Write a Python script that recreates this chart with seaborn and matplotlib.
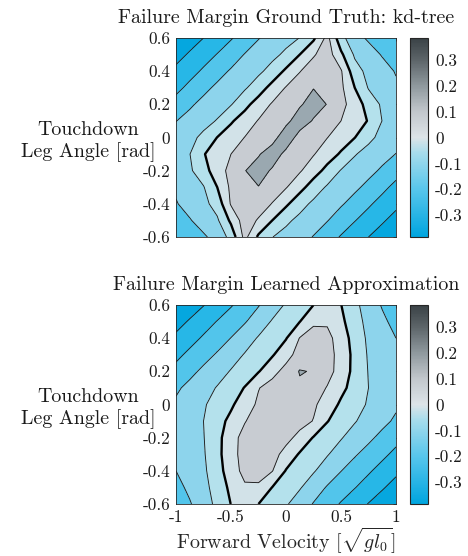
import numpy as np
import matplotlib
matplotlib.use("Agg")
import matplotlib.pyplot as plt
import seaborn as sns
from matplotlib.colors import LinearSegmentedColormap, Normalize
from matplotlib.cm import ScalarMappable

# ---------------- data ----------------
forward_velocity = [-1.0, -0.875, -0.75, -0.625, -0.5, -0.375, -0.25, -0.125, 0.0,
                    0.125, 0.25, 0.375, 0.5, 0.625, 0.75, 0.875, 1.0]
leg_angle = [-0.6, -0.5, -0.4, -0.3, -0.2, -0.1, 0.0, 0.1, 0.2, 0.3, 0.4, 0.5, 0.6]

# failure margin, ground truth (rows: leg angle -0.6 ... 0.6)
truth_margin = [
    [-0.125, -0.116, -0.106, -0.085, -0.033, 0.065, -0.009, -0.049, -0.067, -0.084, -0.102, -0.128, -0.154, -0.177, -0.200, -0.222, -0.245],
    [-0.113, -0.103, -0.082, -0.057, 0.010, 0.075, 0.045, 0.000, -0.040, -0.063, -0.081, -0.098, -0.123, -0.148, -0.171, -0.194, -0.217],
    [-0.103, -0.084, -0.064, -0.030, 0.055, 0.080, 0.075, 0.048, 0.009, -0.032, -0.060, -0.077, -0.095, -0.117, -0.143, -0.167, -0.189],
    [-0.093, -0.073, -0.053, 0.000, 0.060, 0.085, 0.098, 0.075, 0.053, 0.017, -0.024, -0.056, -0.074, -0.091, -0.112, -0.138, -0.163],
    [-0.083, -0.057, -0.022, 0.030, 0.063, 0.098, 0.125, 0.093, 0.070, 0.055, 0.022, -0.015, -0.053, -0.070, -0.087, -0.107, -0.132],
    [-0.080, -0.051, -0.003, 0.024, 0.050, 0.070, 0.095, 0.130, 0.085, 0.070, 0.053, 0.024, -0.006, -0.047, -0.066, -0.084, -0.101],
    [-0.083, -0.063, -0.039, 0.001, 0.026, 0.051, 0.065, 0.078, 0.135, 0.078, 0.065, 0.051, 0.026, 0.001, -0.039, -0.063, -0.083],
    [-0.101, -0.084, -0.066, -0.047, -0.006, 0.024, 0.053, 0.070, 0.085, 0.130, 0.095, 0.070, 0.050, 0.024, -0.003, -0.051, -0.080],
    [-0.132, -0.107, -0.087, -0.070, -0.053, -0.015, 0.022, 0.055, 0.070, 0.093, 0.125, 0.098, 0.063, 0.030, -0.022, -0.057, -0.083],
    [-0.163, -0.138, -0.112, -0.091, -0.074, -0.056, -0.024, 0.017, 0.053, 0.075, 0.098, 0.085, 0.060, 0.000, -0.053, -0.073, -0.093],
    [-0.189, -0.167, -0.143, -0.117, -0.095, -0.077, -0.060, -0.032, 0.009, 0.048, 0.075, 0.080, 0.055, -0.030, -0.064, -0.084, -0.103],
    [-0.217, -0.194, -0.171, -0.148, -0.123, -0.098, -0.081, -0.063, -0.040, 0.000, 0.045, 0.075, 0.010, -0.057, -0.082, -0.103, -0.113],
    [-0.245, -0.222, -0.200, -0.177, -0.154, -0.128, -0.102, -0.084, -0.067, -0.049, -0.009, 0.065, -0.033, -0.085, -0.106, -0.116, -0.125],
]

# failure margin, learned approximation (rows: leg angle -0.6 ... 0.6)
learned_margin = [
    [-0.130, -0.104, -0.073, -0.038, 0.001, 0.030, 0.000, -0.022, -0.045, -0.073, -0.103, -0.129, -0.154, -0.178, -0.202, -0.224, -0.245],
    [-0.115, -0.090, -0.064, -0.031, 0.012, 0.043, 0.040, -0.001, -0.024, -0.046, -0.075, -0.104, -0.126, -0.148, -0.171, -0.195, -0.218],
    [-0.100, -0.080, -0.059, -0.020, 0.026, 0.065, 0.075, 0.052, -0.003, -0.025, -0.046, -0.072, -0.099, -0.122, -0.144, -0.167, -0.190],
    [-0.085, -0.070, -0.055, -0.014, 0.031, 0.070, 0.090, 0.068, 0.033, -0.005, -0.026, -0.047, -0.070, -0.095, -0.117, -0.139, -0.162],
    [-0.078, -0.066, -0.052, -0.015, 0.030, 0.068, 0.097, 0.095, 0.065, 0.035, -0.003, -0.025, -0.047, -0.069, -0.090, -0.113, -0.135],
    [-0.082, -0.066, -0.050, -0.019, 0.013, 0.047, 0.075, 0.092, 0.082, 0.068, 0.048, 0.002, -0.023, -0.047, -0.068, -0.087, -0.108],
    [-0.092, -0.073, -0.055, -0.032, -0.008, 0.027, 0.058, 0.072, 0.082, 0.072, 0.058, 0.027, -0.008, -0.032, -0.055, -0.073, -0.092],
    [-0.108, -0.087, -0.068, -0.047, -0.023, 0.002, 0.048, 0.068, 0.082, 0.092, 0.075, 0.047, 0.013, -0.019, -0.050, -0.066, -0.082],
    [-0.135, -0.113, -0.090, -0.069, -0.047, -0.025, -0.003, 0.035, 0.065, 0.103, 0.097, 0.068, 0.030, -0.015, -0.052, -0.066, -0.078],
    [-0.162, -0.139, -0.117, -0.095, -0.070, -0.047, -0.026, -0.005, 0.033, 0.068, 0.090, 0.070, 0.031, -0.014, -0.055, -0.070, -0.085],
    [-0.190, -0.167, -0.144, -0.122, -0.099, -0.072, -0.046, -0.025, -0.003, 0.052, 0.075, 0.065, 0.026, -0.020, -0.059, -0.080, -0.100],
    [-0.218, -0.195, -0.171, -0.148, -0.126, -0.104, -0.075, -0.046, -0.024, -0.001, 0.040, 0.043, 0.012, -0.031, -0.064, -0.090, -0.115],
    [-0.245, -0.224, -0.202, -0.178, -0.154, -0.129, -0.103, -0.073, -0.045, -0.022, 0.000, 0.030, 0.001, -0.038, -0.073, -0.104, -0.130],
]

fill_levels = [-0.3, -0.2, -0.15, -0.1, -0.05, 0.0, 0.05, 0.1, 0.2]
line_levels = [-0.2, -0.15, -0.1, -0.05, 0.05, 0.1]
x_ticks = [-1, -0.5, 0, 0.5, 1]
x_ticklabels = ["-1", "-0.5", "0", "0.5", "1"]
y_ticks = [-0.6, -0.4, -0.2, 0, 0.2, 0.4, 0.6]
y_ticklabels = ["-0.6", "-0.4", "-0.2", "0", "0.2", "0.4", "0.6"]
cbar_ticks = [-0.3, -0.2, -0.1, 0, 0.1, 0.2, 0.3]
cbar_ticklabels = ["-0.3", "-0.2", "-0.1", "0", "0.1", "0.2", "0.3"]
titles = ["Failure Margin Ground Truth: kd-tree", "Failure Margin Learned Approximation"]

# ---------------- style ----------------
sns.set_theme(style="white")
plt.rcParams.update({
    "font.family": "serif",
    "font.serif": ["cmr10", "DejaVu Serif"],
    "mathtext.fontset": "cm",
    "axes.unicode_minus": False,
    "axes.formatter.use_mathtext": True,
    "axes.edgecolor": "#262626",
    "axes.linewidth": 0.6,
    "contour.negative_linestyle": "solid",
})

band_colors = ["#05a7df", "#27b7e7", "#52c5eb", "#8dd4ec", "#b4e1ec",
               "#d2e2e8", "#c8ccd2", "#9aa8b0"]
cmap = LinearSegmentedColormap.from_list(
    "margin",
    [(0.0, "#00a5df"), (0.24, "#58c6ec"), (0.42, "#a6dcec"), (0.5, "#dde4e8"),
     (0.63, "#c2c7cc"), (0.76, "#8f999e"), (0.89, "#5d6569"), (1.0, "#3a4246")])
norm = Normalize(vmin=-0.385, vmax=0.385)

fig = plt.figure(figsize=(4.68, 5.56), dpi=100)
W, H = 468.0, 556.0
ax_boxes = [(176, 38, 396, 237), (176, 305, 396, 504)]

for i, (Z, (l, t, r, b)) in enumerate(zip([truth_margin, learned_margin], ax_boxes)):
    ax = fig.add_axes([l / W, 1 - b / H, (r - l) / W, (b - t) / H])
    cax = fig.add_axes([410 / W, 1 - b / H, 18 / W, (b - t) / H])
    Zarr = np.array(Z)
    ax.contourf(forward_velocity, leg_angle, Zarr, levels=fill_levels, colors=band_colors)
    ax.contour(forward_velocity, leg_angle, Zarr, levels=line_levels,
               colors="#1a1a1a", linewidths=0.65, linestyles="solid")
    ax.contour(forward_velocity, leg_angle, Zarr, levels=[0.0],
               colors="black", linewidths=1.7, linestyles="solid")
    ax.set_xlim(-1, 1)
    ax.set_ylim(-0.6, 0.6)
    ax.set_xticks(x_ticks)
    ax.set_yticks(y_ticks)
    ax.set_yticklabels(y_ticklabels)
    if i == 1:
        ax.set_xticklabels(x_ticklabels)
        ax.set_xlabel(r"Forward Velocity [$\sqrt{g l_0}$]", fontsize=14.4, labelpad=0)
    else:
        ax.set_xticklabels([])
    ax.tick_params(direction="in", length=2.5, width=0.5, top=True, right=True,
                   labelsize=12.4, pad=4, colors="#262626", labelcolor="#1a1a1a")
    ax.set_title(titles[i], fontsize=14.4, pad=11, color="#1a1a1a")
    ax.set_ylabel("Touchdown\nLeg Angle [rad]", rotation=0, fontsize=14.4,
                  ha="center", va="center", multialignment="center", color="#1a1a1a")
    ax.yaxis.set_label_coords(-0.40, 0.48)
    for s in ax.spines.values():
        s.set_visible(True)

    cb = fig.colorbar(ScalarMappable(norm=norm, cmap=cmap), cax=cax, ticks=cbar_ticks)
    cb.ax.set_yticklabels(cbar_ticklabels)
    cb.ax.tick_params(direction="in", length=2.5, width=0.5, labelsize=12.4, pad=5,
                      colors="#262626", labelcolor="#1a1a1a")
    cb.outline.set_linewidth(0.8)
    cb.outline.set_edgecolor("#262626")

fig.savefig("out.png", dpi=100)
